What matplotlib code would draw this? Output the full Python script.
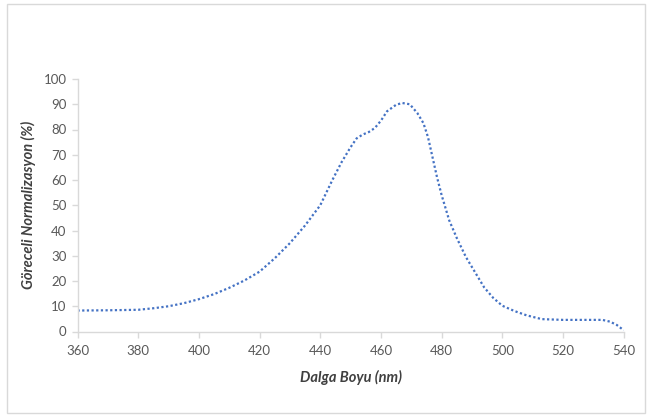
import matplotlib.pyplot as plt
from matplotlib.patches import Rectangle

# emission spectrum, relative normalisation
wavelength = [360, 370, 380, 385, 390, 395, 400, 405, 410, 415, 420, 425, 430, 435,
              440, 444, 447, 450, 452, 454, 456, 458, 460, 462, 465, 467, 469.5,
              472, 474, 475.5, 477, 478.5, 480, 482.5, 485, 488, 491, 494, 497,
              500, 504, 508, 513, 520, 527, 533, 535.5, 537.7, 540]
intensity = [8.3, 8.4, 8.6, 9.2, 10.0, 11.2, 12.8, 14.8, 17.3, 20.2, 23.7, 29, 35, 42,
             50, 60, 67, 73, 76.5, 78, 79, 80.6, 83.5, 87.2, 89.8, 90.5, 90,
             86.5, 82.5, 77, 69, 61, 54, 44, 37, 29.5, 23.5, 17.5, 13.3,
             10.2, 8.1, 6.4, 4.9, 4.6, 4.6, 4.6, 3.9, 2.6, 0.5]
xticks = [360, 380, 400, 420, 440, 460, 480, 500, 520, 540]
yticks = [0, 10, 20, 30, 40, 50, 60, 70, 80, 90, 100]

plt.rcParams['font.family'] = ['Lato', 'DejaVu Sans']

fig = plt.figure(figsize=(6.48, 4.16), dpi=100)
fig.patches.append(Rectangle((7 / 648, 3 / 416), 638 / 648, 409 / 416,
                             transform=fig.transFigure, fill=False,
                             edgecolor='#d9d9d9', linewidth=1))
ax = fig.add_axes([77.5 / 648, 1 - 331.5 / 416, (623.7 - 77.5) / 648, (331.5 - 79) / 416])

ax.plot(wavelength, intensity, color='#4472c4', linewidth=1.6,
        linestyle=(0, (1, 1.1)), dash_capstyle='butt')

ax.set_xlim(360, 540)
ax.set_ylim(0, 100)
ax.set_xticks(xticks)
ax.set_yticks(yticks)
for side in ['top', 'right']:
    ax.spines[side].set_visible(False)
for side in ['left', 'bottom']:
    ax.spines[side].set_color('#d9d9d9')
    ax.spines[side].set_linewidth(1)
ax.tick_params(colors='#d9d9d9', labelcolor='#595959', labelsize=9.5, length=4, width=1)
ax.tick_params(axis='x', pad=6)
ax.tick_params(axis='y', pad=4)

ax.set_xlabel('Dalga Boyu (nm)', fontsize=10.5, fontweight='bold', fontstyle='italic',
              color='#404040', labelpad=9)
ax.set_ylabel('Göreceli Normalizasyon (%)', fontsize=10.5, fontweight='bold',
              fontstyle='italic', color='#404040', labelpad=5)

fig.savefig('out.png', dpi=100)
